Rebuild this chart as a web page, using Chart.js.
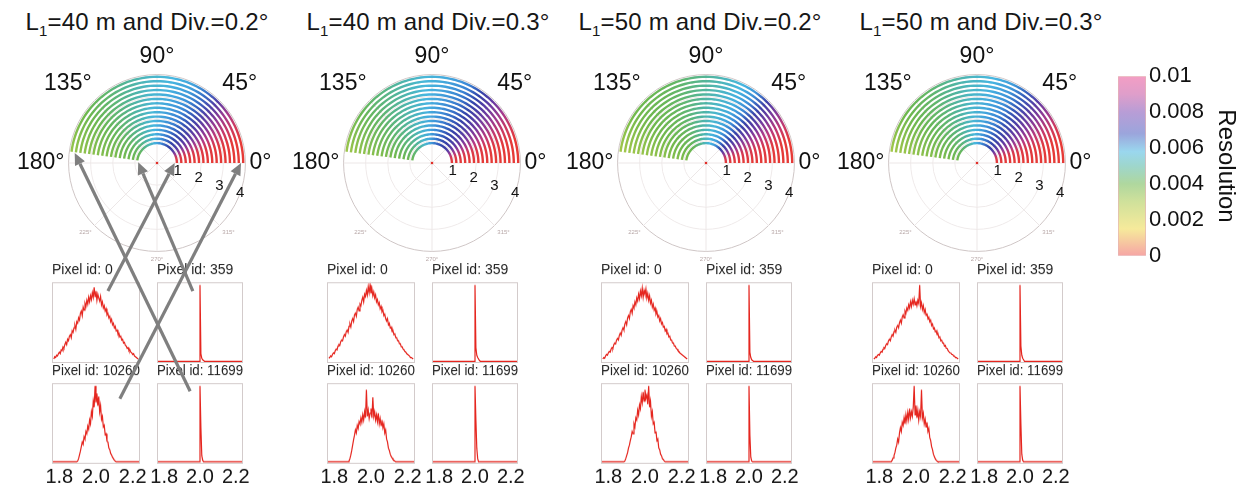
<!DOCTYPE html>
<html>
<head>
<meta charset="utf-8">
<script src="https://cdn.jsdelivr.net/npm/chart.js@4.4.1/dist/chart.umd.min.js"></script>
<style>
  body { margin: 0; background: #fff; width: 1250px; height: 495px; overflow: hidden; position: relative;
         font-family: "Liberation Sans", Arial, sans-serif; }
  .box { position: absolute; }
  .polar { z-index: 2; pointer-events: none; }
  .hist { z-index: 1; }
  .ptitle { position: absolute; top: 8px; width: 320px; margin-left: -160px; text-align: center;
            font-size: 24px; letter-spacing: 0.2px; color: #161616; white-space: nowrap; }
  .ptitle sub { font-size: 15px; }
</style>
</head>
<body>
<script>
// ---- data ----
const PANEL_L1 = ['40', '40', '50', '50'];
const PANEL_DIV = ['0.2', '0.3', '0.2', '0.3'];

const ANGLE_TICKS = [0, 45, 90, 135, 180, 225, 270, 315];
const RING_TICKS = [1, 2, 3, 4];
const RING_RADII = [0.9, 1.1, 1.3, 1.5, 1.7, 1.9, 2.1, 2.3, 2.5, 2.7, 2.9, 3.1, 3.3, 3.5, 3.7, 3.9];
const ARC_END = 172.5;      // arcs cover 0 .. 172.5 deg
const ARC_STEP = 2.5;       // angular sampling of the polar axis

// resolution along the arcs (innermost / outermost ring) at these angles
const PROFILE_ANGLES = [0, 15, 25, 35, 45, 55, 65, 80, 95, 110, 125, 145, 172.5];
const P1_INNER = [0.0095, 0.0093, 0.0086, 0.0078, 0.0073, 0.0071, 0.0068, 0.0063, 0.0058, 0.0053, 0.0048, 0.0043, 0.0040];
const P1_OUTER = [0.0095, 0.0095, 0.0092, 0.0087, 0.0077, 0.0066, 0.0060, 0.0057, 0.0054, 0.0049, 0.0044, 0.0040, 0.0033];
const P2_INNER = [0.0095, 0.0093, 0.0087, 0.0080, 0.0074, 0.0072, 0.0070, 0.0066, 0.0060, 0.0055, 0.0050, 0.0045, 0.0041];
const P2_OUTER = [0.0095, 0.0095, 0.0092, 0.0087, 0.0080, 0.0071, 0.0064, 0.0059, 0.0056, 0.0051, 0.0046, 0.0041, 0.0032];
const P3_INNER = [0.0095, 0.0092, 0.0085, 0.0077, 0.0071, 0.0066, 0.0061, 0.0057, 0.0052, 0.0046, 0.0042, 0.0040, 0.0037];
const P3_OUTER = [0.0095, 0.0095, 0.0091, 0.0084, 0.0073, 0.0062, 0.0057, 0.0052, 0.0047, 0.0043, 0.0041, 0.0039, 0.0031];
const P4_INNER = [0.0095, 0.0093, 0.0086, 0.0079, 0.0073, 0.0070, 0.0067, 0.0062, 0.0057, 0.0051, 0.0046, 0.0042, 0.0039];
const P4_OUTER = [0.0095, 0.0095, 0.0092, 0.0086, 0.0078, 0.0068, 0.0061, 0.0057, 0.0053, 0.0048, 0.0043, 0.0040, 0.0031];

const RES_TICKS = [0, 0.002, 0.004, 0.006, 0.008, 0.01];
const RES_TICK_LABELS = ['0', '0.002', '0.004', '0.006', '0.008', '0.01'];

const PIXEL_IDS = [0, 359, 10260, 11699];
const HIST_TICKS = [1.8, 2.0, 2.2];
const HIST_BIN = 0.005;
const PIX0_START = 1.77;
const PIX10260_START = 1.865;
const PEAK_START = 1.99;

const P1_PIX0 = [0.03,0.06,0.05,0.08,0.07,0.10,0.12,0.10,0.15,0.14, 0.19,0.17,0.22,0.25,0.22,0.29,0.27,0.33,0.35,0.31,
  0.40,0.38,0.44,0.47,0.42,0.52,0.50,0.57,0.54,0.63, 0.66,0.60,0.71,0.67,0.76,0.72,0.80,0.75,0.84,0.78,
  0.86,0.81,0.90,0.84,0.97,0.85,0.92,0.80,0.88,0.83, 0.79,0.85,0.74,0.78,0.70,0.73,0.66,0.69,0.61,0.63,
  0.57,0.59,0.52,0.55,0.48,0.50,0.44,0.46,0.40,0.41, 0.36,0.37,0.32,0.33,0.28,0.29,0.24,0.25,0.21,0.20,
  0.17,0.18,0.14,0.15,0.12,0.11,0.09,0.10,0.07,0.06, 0.05,0.04,0.03];
const P2_PIX0 = [0.04,0.05,0.07,0.06,0.09,0.11,0.10,0.14,0.16,0.15, 0.20,0.22,0.21,0.26,0.28,0.27,0.32,0.35,0.33,0.39,
  0.41,0.38,0.46,0.49,0.45,0.53,0.56,0.52,0.61,0.63, 0.59,0.68,0.71,0.66,0.75,0.73,0.80,0.84,0.78,0.88,
  0.85,0.93,0.87,0.98,0.90,1.00,0.89,0.95,0.86,0.91, 0.83,0.87,0.78,0.81,0.74,0.77,0.69,0.72,0.65,0.67,
  0.60,0.62,0.56,0.53,0.56,0.48,0.50,0.44,0.45,0.39, 0.40,0.35,0.36,0.31,0.31,0.27,0.27,0.23,0.23,0.19,
  0.19,0.16,0.15,0.13,0.12,0.10,0.09,0.08,0.07,0.05, 0.05,0.04,0.03];
const P3_PIX0 = [0.03,0.05,0.04,0.07,0.09,0.08,0.11,0.13,0.12,0.16, 0.18,0.17,0.22,0.24,0.23,0.28,0.30,0.28,0.34,0.37,
  0.34,0.41,0.44,0.41,0.49,0.52,0.48,0.57,0.60,0.56, 0.65,0.68,0.63,0.73,0.70,0.78,0.74,0.83,0.79,0.88,
  0.82,0.92,0.86,0.96,0.84,0.93,0.88,0.95,0.83,0.89, 0.80,0.86,0.76,0.80,0.71,0.75,0.67,0.70,0.62,0.65,
  0.58,0.60,0.53,0.56,0.49,0.51,0.45,0.46,0.40,0.42, 0.36,0.37,0.32,0.33,0.28,0.28,0.24,0.24,0.20,0.20,
  0.17,0.16,0.14,0.13,0.11,0.10,0.09,0.08,0.07,0.06, 0.05,0.04,0.03];
const P4_PIX0 = [0.03,0.04,0.06,0.05,0.08,0.09,0.08,0.11,0.13,0.12, 0.16,0.18,0.17,0.21,0.23,0.22,0.27,0.29,0.27,0.32,
  0.35,0.33,0.39,0.41,0.38,0.45,0.47,0.44,0.51,0.54, 0.50,0.58,0.61,0.57,0.66,0.63,0.70,0.67,0.74,0.70,
  0.78,0.72,0.80,0.75,0.82,0.74,0.79,0.73,0.80,0.76, 1.00,0.72,0.77,0.68,0.73,0.64,0.68,0.60,0.63,0.56,
  0.58,0.52,0.54,0.47,0.49,0.43,0.44,0.39,0.40,0.35, 0.36,0.31,0.32,0.27,0.28,0.24,0.24,0.20,0.21,0.17,
  0.17,0.14,0.14,0.11,0.11,0.09,0.09,0.07,0.07,0.05, 0.05,0.04,0.03];

const P1_PIX10260 = [0,0,0,0,0,0,0,0.01,0.04,0.09, 0.14,0.20,0.26,0.23,0.33,0.30,0.40,0.37,0.47,0.43,
  0.55,0.50,0.66,0.60,0.80,0.72,1.00,0.78,0.90,0.74, 0.86,0.66,0.74,0.56,0.60,0.46,0.48,0.36,0.37,0.27,
  0.26,0.18,0.16,0.11,0.09,0.06,0.04,0.02,0.01,0, 0];
const P2_PIX10260 = [0,0,0,0.01,0.04,0.09,0.15,0.22,0.29,0.35, 0.42,0.38,0.48,0.44,0.53,0.50,0.58,0.52,0.62,0.55,
  0.66,0.58,0.95,0.60,0.68,0.57,0.64,0.70,0.58,0.85, 0.60,0.66,0.55,0.62,0.53,0.64,0.50,0.57,0.48,0.55,
  0.45,0.50,0.38,0.42,0.30,0.26,0.18,0.15,0.10,0.07, 0.05,0.03,0.02,0.01,0];
const P3_PIX10260 = [0,0,0,0,0,0.01,0.04,0.08,0.12,0.18, 0.22,0.28,0.33,0.40,0.37,0.50,0.46,0.58,0.55,0.68,
  0.62,0.75,0.70,0.86,0.78,0.92,0.80,0.95,0.84,0.88, 0.76,1.00,0.72,0.80,0.60,0.66,0.50,0.52,0.38,0.40,
  0.28,0.30,0.18,0.16,0.10,0.08,0.04,0.03,0.01,0];
const P4_PIX10260 = [0,0.02,0.05,0.08,0.12,0.18,0.22,0.30,0.26,0.38, 0.45,0.40,0.52,0.48,0.58,0.50,0.62,0.54,0.65,0.56,
  0.70,0.58,0.66,0.60,0.72,1.00,0.62,0.74,0.58,0.68, 0.55,0.66,0.60,0.95,0.58,0.64,0.50,0.56,0.46,0.52,
  0.40,0.44,0.32,0.28,0.20,0.16,0.10,0.07,0.04,0.02, 0.01,0];

const P1_PIX359 = [0, 0, 1.00, 0.10, 0.04, 0.02, 0.01, 0];
const P2_PIX359 = [0, 0, 1.00, 0.18, 0.08, 0.05, 0.03, 0.01, 0];
const P3_PIX359 = [0, 0, 1.00, 0.12, 0.05, 0.02, 0.01, 0];
const P4_PIX359 = [0, 0, 1.00, 0.20, 0.08, 0.04, 0.02, 0];
const P1_PIX11699 = [0, 0, 1.00, 0.45, 0.08, 0.02, 0];
const P2_PIX11699 = [0, 0, 1.00, 0.55, 0.18, 0.04, 0];
const P3_PIX11699 = [0, 0, 1.00, 0.35, 0.06, 0.01, 0];
const P4_PIX11699 = [0, 0, 1.00, 0.50, 0.10, 0.02, 0];

// ---- grouping ----
const RES_INNER = [P1_INNER, P2_INNER, P3_INNER, P4_INNER];
const RES_OUTER = [P1_OUTER, P2_OUTER, P3_OUTER, P4_OUTER];
const HISTS = [
  [[PIX0_START, P1_PIX0], [PEAK_START, P1_PIX359], [PIX10260_START, P1_PIX10260], [PEAK_START, P1_PIX11699]],
  [[PIX0_START, P2_PIX0], [PEAK_START, P2_PIX359], [PIX10260_START, P2_PIX10260], [PEAK_START, P2_PIX11699]],
  [[PIX0_START, P3_PIX0], [PEAK_START, P3_PIX359], [PIX10260_START, P3_PIX10260], [PEAK_START, P3_PIX11699]],
  [[PIX0_START, P4_PIX0], [PEAK_START, P4_PIX359], [PIX10260_START, P4_PIX10260], [PEAK_START, P4_PIX11699]]
];

// colour map of the resolution scale (style)
const CMAP = [
  [0, '#ef5b5b'], [0.0015, '#eed94a'], [0.003, '#a9c94a'], [0.004, '#6db74e'], [0.005, '#4fb4a2'],
  [0.0057, '#47b7e0'], [0.0064, '#3b86d6'], [0.0071, '#3343a8'], [0.0081, '#6d3aa2'], [0.0089, '#b83a84'],
  [0.0095, '#e63a36'], [0.01, '#ee4a78']
];
// the printed colour bar is a paler version, ending in pink
const BAR_STOPS = [
  [0, '#ef5b5b'], [0.0015, '#eed94a'], [0.003, '#a9c94a'], [0.004, '#6db74e'], [0.005, '#4fb4a2'],
  [0.0058, '#47b7e0'], [0.0068, '#4a5cc0'], [0.008, '#7d4cb4'], [0.009, '#c54f9f'], [0.01, '#ea4f94']
];

// layout
const CENTERS_X = [157, 432, 706, 977];
const CENTER_Y = 163;
const TITLE_X = [147, 428, 700, 981];
const POLAR_AREA = 280;
const ARROW_ROOM = 150;
const HIST_LEFT = [-105, 0];
const HIST_W = [88, 86];
const HIST_TOP = [282, 383];
const HIST_H = [81, 82];

// arrows of the first panel: from a histogram to the arc end it belongs to
const ARROWS = [
  { hist: 0, fromX: 2.065, fromY: 0.92, toAngle: 0, toR: 0.8 },
  { hist: 1, fromX: 1.96, fromY: 0.92, toAngle: 178, toR: 0.85 },
  { hist: 2, fromX: 2.13, fromY: 0.83, toAngle: 0, toR: 3.8 },
  { hist: 3, fromX: 1.945, fromY: 0.93, toAngle: 173, toR: 3.75 }
];

Chart.defaults.font.family = '"Liberation Sans", Arial, sans-serif';
Chart.defaults.color = '#111';

function hexRgb(h) {
  return [parseInt(h.slice(1, 3), 16), parseInt(h.slice(3, 5), 16), parseInt(h.slice(5, 7), 16)];
}

function mapColor(stops, v, whiten) {
  whiten = whiten || 0;
  let a = stops[0], b = stops[stops.length - 1];
  for (let i = 0; i < stops.length - 1; i++) {
    if (v >= stops[i][0] && v <= stops[i + 1][0]) { a = stops[i]; b = stops[i + 1]; break; }
  }
  const t = b[0] === a[0] ? 0 : (v - a[0]) / (b[0] - a[0]);
  const ca = hexRgb(a[1]), cb = hexRgb(b[1]);
  const c = ca.map((x, i) => {
    const m = x + (cb[i] - x) * t;
    return Math.round(m + (255 - m) * whiten);
  });
  return `rgb(${c[0]},${c[1]},${c[2]})`;
}

// polar axis sampled every ARC_STEP degrees, going clockwise from 180 deg
const RADAR_ANGLES = [];
for (let i = 0; i < 360 / ARC_STEP; i++) {
  RADAR_ANGLES.push(((180 - i * ARC_STEP) % 360 + 360) % 360);
}
function angleIndex(theta) {
  const n = RADAR_ANGLES.length;
  return (((180 - theta) / ARC_STEP) % n + n) % n;
}

function ringGradient(chart, p, k) {
  const s = chart.scales.r;
  if (!s || !chart.chartArea) return '#888';
  const g = chart.ctx.createConicGradient(Math.PI, s.xCenter, s.yCenter);
  const f = (RING_RADII[k] - RING_RADII[0]) / (RING_RADII[RING_RADII.length - 1] - RING_RADII[0]);
  PROFILE_ANGLES.forEach((a, j) => {
    const res = RES_INNER[p][j] + (RES_OUTER[p][j] - RES_INNER[p][j]) * f;
    g.addColorStop((180 - a) / 360, mapColor(CMAP, res));
  });
  return g;
}

function addBox(cls, left, top, width, height) {
  const div = document.createElement('div');
  div.className = 'box ' + cls;
  div.style.left = left + 'px';
  div.style.top = top + 'px';
  div.style.width = width + 'px';
  div.style.height = height + 'px';
  const canvas = document.createElement('canvas');
  div.appendChild(canvas);
  document.body.appendChild(div);
  return canvas;
}

const framePlugin = {
  id: 'frame',
  afterDraw(chart) {
    const { ctx, chartArea: a } = chart;
    ctx.save();
    ctx.strokeStyle = '#d3cbcb';
    ctx.lineWidth = 1;
    ctx.strokeRect(Math.round(a.left) + 0.5, Math.round(a.top) + 0.5, Math.round(a.right - a.left) - 1, Math.round(a.bottom - a.top) - 1);
    ctx.restore();
  }
};

const ringTickPlugin = {
  id: 'ringTicks',
  afterDraw(chart) {
    const s = chart.scales.r;
    const ctx = chart.ctx;
    ctx.save();
    ctx.font = '15px "Liberation Sans", Arial, sans-serif';
    ctx.fillStyle = '#111';
    ctx.textAlign = 'center';
    ctx.textBaseline = 'middle';
    RING_TICKS.forEach(v => {
      const pt = s.getPointPosition(angleIndex(-20), s.getDistanceFromCenterForValue(v));
      ctx.fillText(String(v), pt.x, pt.y);
    });
    ctx.restore();
  }
};

const histCharts = [];

const arrowPlugin = {
  id: 'arrows',
  afterDraw(chart) {
    const hists = histCharts[0];
    if (!hists) return;
    const s = chart.scales.r;
    const ctx = chart.ctx;
    const rc = chart.canvas.getBoundingClientRect();
    ctx.save();
    ctx.strokeStyle = '#7f7f7f';
    ctx.fillStyle = '#7f7f7f';
    ctx.lineWidth = 3.2;
    ARROWS.forEach(a => {
      const h = hists[a.hist];
      const hc = h.canvas.getBoundingClientRect();
      const x0 = hc.left - rc.left + h.scales.x.getPixelForValue(a.fromX);
      const y0 = hc.top - rc.top + h.scales.y.getPixelForValue(a.fromY);
      const tip = s.getPointPosition(angleIndex(a.toAngle), s.getDistanceFromCenterForValue(a.toR));
      const ang = Math.atan2(tip.y - y0, tip.x - x0);
      const L = 12, W = 5.5;
      const bx = tip.x - L * Math.cos(ang), by = tip.y - L * Math.sin(ang);
      ctx.beginPath();
      ctx.moveTo(x0, y0);
      ctx.lineTo(bx, by);
      ctx.stroke();
      ctx.beginPath();
      ctx.moveTo(tip.x, tip.y);
      ctx.lineTo(bx + W * Math.sin(ang), by - W * Math.cos(ang));
      ctx.lineTo(bx - W * Math.sin(ang), by + W * Math.cos(ang));
      ctx.closePath();
      ctx.fill();
    });
    ctx.restore();
  }
};

// ---- panel titles ----
PANEL_L1.forEach((l1, p) => {
  const t = document.createElement('div');
  t.className = 'ptitle';
  t.style.left = TITLE_X[p] + 'px';
  t.innerHTML = `L<sub>1</sub>=${l1} m and Div.=${PANEL_DIV[p]}°`;
  document.body.appendChild(t);
});

// ---- histograms ----
function makeHist(p, k) {
  const col = k % 2, row = Math.floor(k / 2);
  const bottomRow = row === 1;
  const padX = 16;
  const titleH = 14 * 1.2 + 3;
  const axisH = bottomRow ? 20 * 1.2 + 2 : 0;
  const boxLeft = CENTERS_X[p] + HIST_LEFT[col];
  const canvas = addBox('hist', boxLeft - padX, HIST_TOP[row] - titleH, HIST_W[col] + 2 * padX, titleH + HIST_H[row] + axisH);
  const [start, values] = HISTS[p][k];
  const pts = values.map((v, i) => ({ x: start + i * HIST_BIN, y: v }));
  if (k !== 0) {
    pts.unshift({ x: 1.76, y: 0 });
    pts.push({ x: 2.24, y: 0 });
  }
  return new Chart(canvas, {
    type: 'scatter',
    data: { datasets: [{ data: pts, showLine: true, borderColor: '#e5261f', borderWidth: 1.2, pointRadius: 0, tension: 0 }] },
    options: {
      animation: false,
      responsive: true,
      maintainAspectRatio: false,
      layout: { padding: { left: padX, right: padX, top: 0, bottom: 0 } },
      plugins: {
        legend: { display: false },
        tooltip: { enabled: false },
        title: {
          display: true, text: 'Pixel id: ' + PIXEL_IDS[k], align: 'start', color: '#222',
          font: { size: 14, weight: 'normal' }, padding: { top: 0, bottom: 3 }
        }
      },
      scales: {
        x: {
          type: 'linear', min: 1.76, max: 2.24, display: bottomRow,
          afterBuildTicks: ax => { ax.ticks = HIST_TICKS.map(v => ({ value: v })); },
          ticks: { font: { size: 20 }, color: '#111', padding: 2, maxRotation: 0, autoSkip: false,
                   callback: v => Number(v).toFixed(1) },
          grid: { display: false, drawTicks: false },
          border: { display: false }
        },
        y: { min: -0.025, max: 1.04, display: false }
      }
    },
    plugins: [framePlugin]
  });
}

for (let p = 0; p < 4; p++) {
  histCharts.push([0, 1, 2, 3].map(k => makeHist(p, k)));
}

// ---- polar plots ----
function makePolar(p) {
  const cx = CENTERS_X[p];
  const canvas = addBox('polar', cx - 152, CENTER_Y - 150, POLAR_AREA, POLAR_AREA + ARROW_ROOM);
  const rings = RING_RADII.map((r, k) => ({
    data: RADAR_ANGLES.map(a => (a >= 0 && a <= ARC_END ? r : null)),
    borderColor: c => ringGradient(c.chart, p, k),
    borderWidth: 2.4,
    pointRadius: 0,
    fill: false,
    spanGaps: false
  }));
  rings.push({
    data: RADAR_ANGLES.map(a => (a === 0 ? 0 : null)),
    borderColor: '#e0302a', backgroundColor: '#e0302a', pointRadius: 1.3, borderWidth: 0, fill: false
  });
  const bigLabel = l => l !== '' && parseFloat(l) <= 180;
  return new Chart(canvas, {
    type: 'radar',
    data: { labels: RADAR_ANGLES, datasets: rings },
    options: {
      animation: false,
      responsive: true,
      maintainAspectRatio: false,
      layout: { padding: { bottom: ARROW_ROOM } },
      plugins: { legend: { display: false }, tooltip: { enabled: false } },
      elements: { line: { tension: 0 } },
      scales: {
        r: {
          min: 0, max: 4, startAngle: 270,
          ticks: { display: false, stepSize: 1 },
          grid: { circular: true, lineWidth: 1,
                  color: c => (c.tick && c.tick.value === 4 ? '#cfc6c6' : '#efeaea') },
          angleLines: { display: true, color: '#ece7e7',
                        lineWidth: c => (ANGLE_TICKS.includes(RADAR_ANGLES[c.index]) ? 1 : 0) },
          pointLabels: {
            padding: 4,
            callback: (label) => (ANGLE_TICKS.includes(label) ? label + '°' : ''),
            font: c => ({ size: c.label === '' ? 1 : (bigLabel(c.label) ? 23 : 6) }),
            color: c => (bigLabel(c.label) ? '#111' : '#b8a8a8')
          }
        }
      }
    },
    plugins: p === 0 ? [ringTickPlugin, arrowPlugin] : [ringTickPlugin]
  });
}

const polarCharts = [0, 1, 2, 3].map(makePolar);

// ---- colour bar ----
(function () {
  const barW = 28, axisW = 96;
  const top = RES_TICKS[RES_TICKS.length - 1];
  const canvas = addBox('hist', 1118, 60, barW + axisW, 212);
  new Chart(canvas, {
    type: 'bar',
    data: {
      labels: ['Resolution'],
      datasets: [{
        data: [top],
        backgroundColor: c => {
          const { chart } = c;
          const a = chart.chartArea;
          if (!a) return '#ddd';
          const g = chart.ctx.createLinearGradient(0, a.bottom, 0, a.top);
          BAR_STOPS.forEach(([v]) => g.addColorStop(v / top, mapColor(BAR_STOPS, v, 0.45)));
          return g;
        },
        borderColor: '#e6b4b4', borderWidth: 1, borderSkipped: false,
        barPercentage: 1, categoryPercentage: 1
      }]
    },
    options: {
      animation: false,
      responsive: true,
      maintainAspectRatio: false,
      layout: { padding: { top: 15, bottom: 15 } },
      plugins: { legend: { display: false }, tooltip: { enabled: false } },
      scales: {
        x: { display: false },
        y: {
          position: 'right', min: 0, max: top,
          afterBuildTicks: ax => { ax.ticks = RES_TICKS.map(v => ({ value: v })); },
          afterFit: ax => { ax.width = axisW; },
          ticks: { font: { size: 22 }, color: '#111', padding: 3, callback: (v, i) => RES_TICK_LABELS[i] },
          grid: { display: false, drawTicks: false },
          border: { display: false },
          title: { display: true, text: 'Resolution', font: { size: 24 }, color: '#111', padding: { top: 2, bottom: 2 } }
        }
      }
    }
  });
})();
</script>
</body>
</html>
